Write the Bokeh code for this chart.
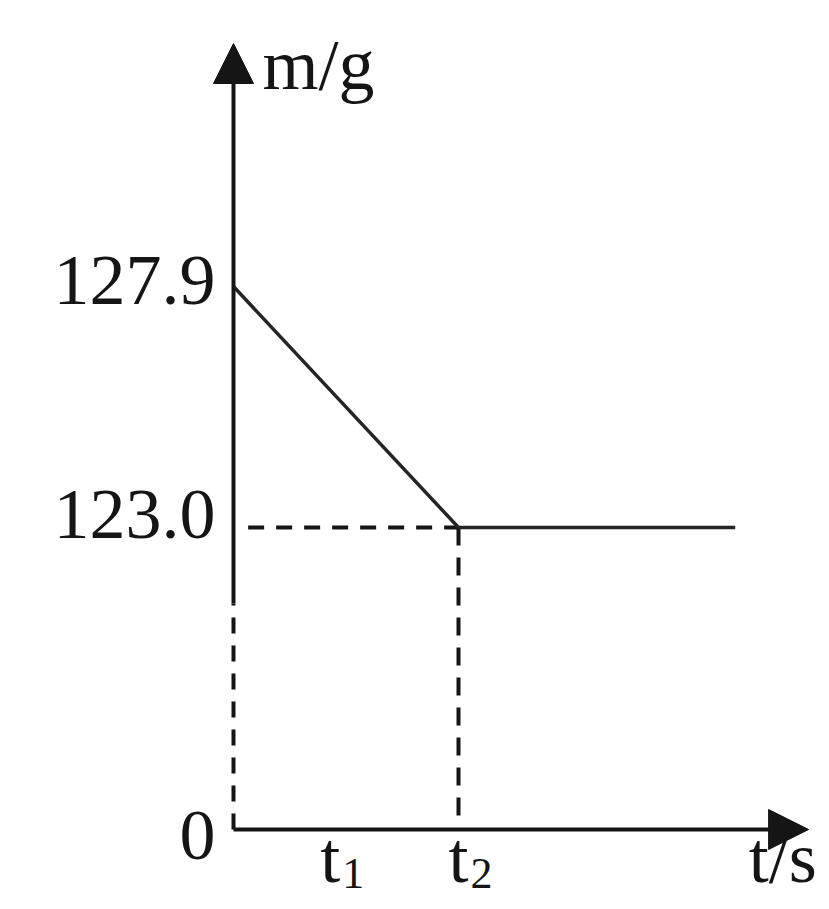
from bokeh.plotting import figure
from bokeh.models import Range1d, Arrow, NormalHead
from bokeh.core.properties import value
from bokeh.embed import file_html
from bokeh.resources import INLINE

# ---- data ----
t_tick_pos = [0.43, 1.0]          # schematic positions of t1, t2
t_tick_main = ["t", "t"]
t_tick_sub = ["1", "2"]
m_tick_vals = [0.0, 123.0, 127.9]
m_tick_labels = ["0", "123.0", "127.9"]
t_vals = [0.0, 1.0, 2.23]          # t = 0, t2, end of measurement
m_vals = [127.9, 123.0, 123.0]     # mass in g
x_label = "t/s"
y_label = "m/g"

# broken (schematic) mass axis: 0 at origin, then a jump to 123.0
BREAK_BASE = 3.02
SCALE = 2.41 / 4.9


def ypos(m):
    return 0.0 if m == 0 else BREAK_BASE + (m - 123.0) * SCALE


FONT = value("Liberation Serif")
INK = "#151515"

W, H = 821, 901
p = figure(width=W, height=H, output_backend="svg", toolbar_location=None,
           x_range=Range1d(-233 / 225, (W - 233) / 225),
           y_range=Range1d(-(H - 829) / 100, 829 / 100),
           x_axis_location=None, y_axis_location=None, min_border=0)
p.grid.visible = False
p.outline_line_color = None
p.background_fill_color = "white"

y_top = 7.86
x_tip = 2.556
y_break = 2.26

# axes with arrow heads
p.add_layout(Arrow(end=NormalHead(size=40, fill_color=INK, line_color=INK),
                   x_start=0, y_start=y_break, x_end=0, y_end=y_top,
                   line_width=4, line_color=INK))
p.add_layout(Arrow(end=NormalHead(size=40, fill_color=INK, line_color=INK),
                   x_start=0, y_start=0, x_end=x_tip, y_end=0,
                   line_width=4, line_color=INK))
p.line([0, 0], [0, y_break], line_width=4, line_color=INK, line_dash="16 12")

# guide lines
y123 = ypos(m_vals[1])
p.line([0.065, t_vals[1]], [y123, y123], line_width=4, line_color=INK, line_dash="16 12")
p.line([t_vals[1], t_vals[1]], [y123, 0.06], line_width=4, line_color=INK, line_dash="18 12")

# data line
p.line(t_vals, [ypos(m) for m in m_vals], line_width=3.5, line_color="#252525")

# y tick labels
y_offsets = [6, -13, -6]
for val, lab, off in zip(m_tick_vals, m_tick_labels, y_offsets):
    p.text(x=[0], y=[ypos(val)], text=[lab], text_font=FONT, text_font_size="72px",
           text_align="right", text_baseline="middle", x_offset=-18, y_offset=off,
           text_color=INK)

# x tick labels with subscripts
for pos, main, sub in zip(t_tick_pos, t_tick_main, t_tick_sub):
    p.text(x=[pos], y=[0], text=[main], text_font=FONT, text_font_size="72px",
           text_align="center", text_baseline="middle", y_offset=28, text_color=INK)
    p.text(x=[pos], y=[0], text=[sub], text_font=FONT, text_font_size="44px",
           text_align="left", text_baseline="middle", x_offset=12, y_offset=44,
           text_color=INK)

# axis titles
p.text(x=[2.29], y=[0], text=[x_label], text_font=FONT, text_font_size="72px",
       text_align="left", text_baseline="middle", y_offset=28, text_color=INK)
p.text(x=[0.129], y=[7.65], text=[y_label], text_font=FONT, text_font_size="72px",
       text_align="left", text_baseline="middle", text_color=INK)

open("out.html", "w").write(file_html(p, INLINE))
